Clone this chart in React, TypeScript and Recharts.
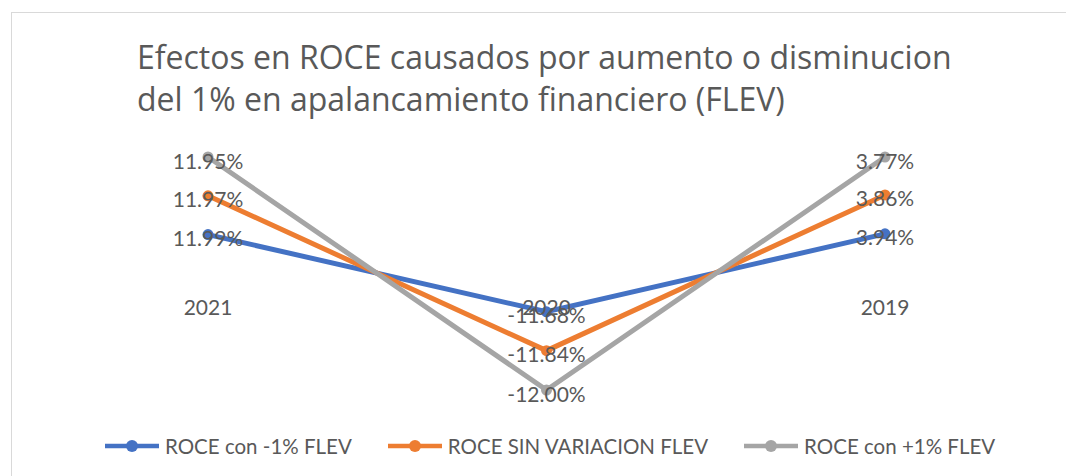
import { LineChart, Line, XAxis, YAxis, LabelList } from 'recharts';

const years = ['2021', '2020', '2019'];
const roceMenos1 = [11.99, -11.68, 3.94];
const roceSinVariacion = [11.97, -11.84, 3.86];
const roceMas1 = [11.95, -12.0, 3.77];

const seriesNames = ['ROCE con -1% FLEV', 'ROCE SIN VARIACION FLEV', 'ROCE con +1% FLEV'];
const colors = ['#4472C4', '#ED7D31', '#A5A5A5'];

// Excel "100% stacked line": each point is the running share of the absolute total
const data = years.map((year, i) => {
    const vals = [roceMenos1[i], roceSinVariacion[i], roceMas1[i]];
    const total = vals.reduce((s, v) => s + Math.abs(v), 0);
    let acc = 0;
    const row: Record<string, number | string> = { year };
    vals.forEach((v, k) => {
        acc += v / total;
        row['s' + k] = acc;
        row['v' + k] = v;
    });
    return row;
});

const textColor = '#595959';
const font = 'Lato, "Open Sans", sans-serif';

const renderLabel = (props: any) => {
    const { x, y, value } = props;
    return (
        <text x={x} y={y + 3} textAnchor="middle" dominantBaseline="central"
            fill={textColor} fontSize={21} fontFamily={font}>
            {Number(value).toFixed(2)}%
        </text>
    );
};

// category labels sit next to the zero line, not at the bottom of the plot
const renderTick = (props: any) => {
    const { x, payload } = props;
    return (
        <text x={x} y={306} textAnchor="middle" dominantBaseline="central"
            fill={textColor} fontSize={21} fontFamily={font}>
            {payload.value}
        </text>
    );
};

function LegendIcon({ color }: { color: string }) {
    return (
        <svg width={54} height={14} style={{ marginRight: 6 }}>
            <line x1={0} y1={7} x2={54} y2={7} stroke={color} strokeWidth={4.5} />
            <circle cx={27} cy={7} r={6} fill={color} />
        </svg>
    );
}

export default function App() {
    return (
        <div style={{ position: 'absolute', left: 0, top: 0, width: 1066, height: 476, overflow: 'hidden', background: '#fff' }}>
            <div style={{ position: 'absolute', left: 11, top: 12, width: 1100, height: 500, border: '1px solid #D9D9D9' }} />
            <div style={{
                position: 'absolute', left: 137, top: 36, fontFamily: '"Open Sans", sans-serif', fontSize: 32,
                lineHeight: '42px', color: textColor, whiteSpace: 'nowrap'
            }}>
                <div>Efectos en ROCE causados por aumento o disminucion</div>
                <div>del 1% en apalancamiento financiero (FLEV)</div>
            </div>
            <div style={{ position: 'absolute', left: 0, top: 0 }}>
                <LineChart width={1066} height={476} data={data}
                    margin={{ top: 157, right: 181, bottom: 56, left: 208 }}>
                    <YAxis hide domain={[-1, 1]} />
                    <XAxis dataKey="year" axisLine={false} tickLine={false} height={30} tick={renderTick} interval={0} />
                    {[0, 1, 2].map(k => (
                        <Line key={k} type="linear" dataKey={'s' + k} name={seriesNames[k]}
                            stroke={colors[k]} strokeWidth={5}
                            dot={{ r: 5.5, fill: colors[k], stroke: colors[k], strokeWidth: 0 }}
                            isAnimationActive={false}>
                            <LabelList dataKey={'v' + k} content={renderLabel} />
                        </Line>
                    ))}
                </LineChart>
            </div>
            <div style={{
                position: 'absolute', left: 105, top: 434, display: 'flex', alignItems: 'center',
                gap: 36, fontFamily: font, fontSize: 20.5, color: textColor, whiteSpace: 'nowrap'
            }}>
                {seriesNames.map((n, k) => (
                    <div key={n} style={{ display: 'flex', alignItems: 'center' }}>
                        <LegendIcon color={colors[k]} />
                        <span>{n}</span>
                    </div>
                ))}
            </div>
        </div>
    );
}
